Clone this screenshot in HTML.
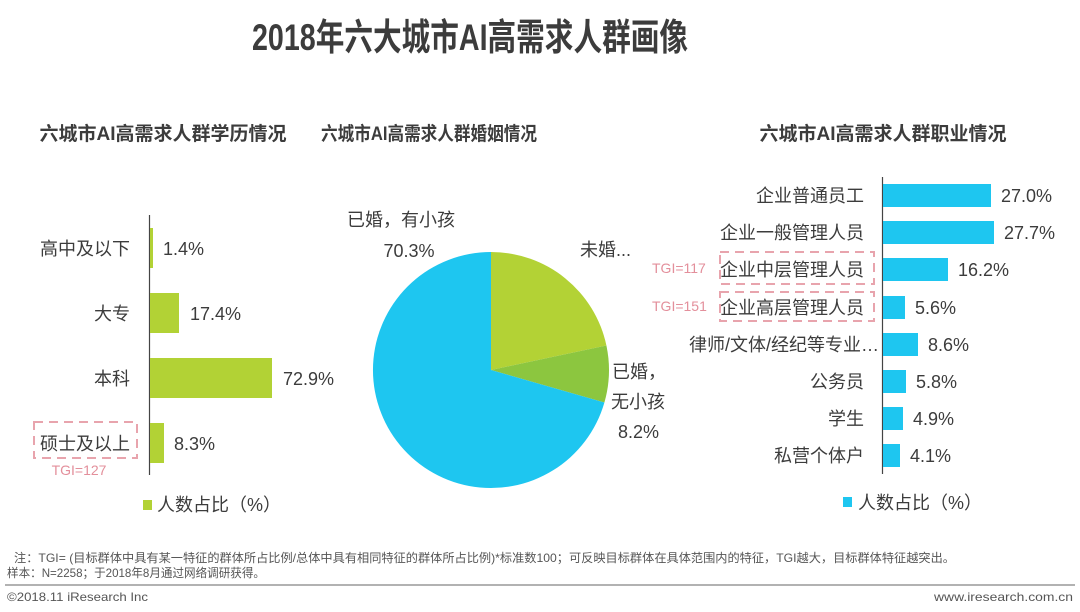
<!DOCTYPE html>
<html><head><meta charset="utf-8"><style>
html,body{margin:0;padding:0;background:#fff;}
svg{display:block;font-family:"Liberation Sans","Noto Sans CJK SC",sans-serif;}
</style></head><body>
<svg width="1080" height="612" viewBox="0 0 1080 612" xmlns="http://www.w3.org/2000/svg">
<rect width="1080" height="612" fill="#fff"/>
<text x="470" y="50" font-size="37" font-weight="bold" fill="#3c3c3c" text-anchor="middle" textLength="436" lengthAdjust="spacingAndGlyphs">2018年六大城市AI高需求人群画像</text>
<g font-size="19" font-weight="bold" fill="#3c3c3c" text-anchor="middle">
<text x="163" y="140">六城市AI高需求人群学历情况</text>
<text x="429" y="140" textLength="216" lengthAdjust="spacingAndGlyphs">六城市AI高需求人群婚姻情况</text>
<text x="883" y="140">六城市AI高需求人群职业情况</text>
</g>
<!-- left chart -->
<line x1="149.5" y1="215" x2="149.5" y2="475" stroke="#444" stroke-width="1.2"/>
<g fill="#b2d235">
<rect x="150" y="228" width="3" height="40"/>
<rect x="150" y="293" width="29" height="40"/>
<rect x="150" y="358" width="122" height="40"/>
<rect x="150" y="423" width="14" height="40"/>
</g>
<g font-size="18" fill="#3c3c3c">
<g text-anchor="end">
<text x="130" y="255">高中及以下</text>
<text x="130" y="320">大专</text>
<text x="130" y="385">本科</text>
<text x="130" y="450">硕士及以上</text>
</g>
<text x="163" y="255">1.4%</text>
<text x="190" y="320">17.4%</text>
<text x="283" y="385">72.9%</text>
<text x="174" y="450">8.3%</text>
</g>
<rect x="34" y="422" width="103" height="36" fill="none" stroke="#e8a4ad" stroke-width="2" stroke-dasharray="9,6"/>
<text x="79" y="475" font-size="14" fill="#e38f9b" text-anchor="middle">TGI=127</text>
<rect x="143" y="500" width="9" height="10" fill="#b2d235"/>
<text x="157" y="511" font-size="18" fill="#3c3c3c">人数占比（%）</text>
<!-- pie -->
<g transform="translate(491,370)">
<path d="M0,0 L0,-118 A118,118 0 0 1 115.4,-24.5 Z" fill="#b3d235"/>
<path d="M0,0 L115.4,-24.5 A118,118 0 0 1 113.4,32.5 Z" fill="#8cc63f"/>
<path d="M0,0 L113.4,32.5 A118,118 0 1 1 0,-118 Z" fill="#1ec6f0"/>
</g>
<g font-size="18" fill="#3c3c3c">
<text x="347" y="226">已婚，有小孩</text>
<text x="409" y="257" text-anchor="middle">70.3%</text>
<text x="580" y="256">未婚...</text>
<text x="612" y="378">已婚，</text>
<text x="611" y="408">无小孩</text>
<text x="618" y="438">8.2%</text>
</g>
<!-- right chart -->
<line x1="882.5" y1="177" x2="882.5" y2="474" stroke="#444" stroke-width="1.2"/>
<g fill="#1ec6f0">
<rect x="883" y="184" width="108" height="23"/>
<rect x="883" y="221" width="111" height="23"/>
<rect x="883" y="258" width="65" height="23"/>
<rect x="883" y="296" width="22" height="23"/>
<rect x="883" y="333" width="35" height="23"/>
<rect x="883" y="370" width="23" height="23"/>
<rect x="883" y="407" width="20" height="23"/>
<rect x="883" y="444" width="17" height="23"/>
</g>
<g font-size="18" fill="#3c3c3c">
<g text-anchor="end">
<text x="864" y="202">企业普通员工</text>
<text x="864" y="239">企业一般管理人员</text>
<text x="864" y="276">企业中层管理人员</text>
<text x="864" y="314">企业高层管理人员</text>
<text x="879" y="351">律师/文体/经纪等专业…</text>
<text x="864" y="388">公务员</text>
<text x="864" y="425">学生</text>
<text x="864" y="462">私营个体户</text>
</g>
<text x="1001" y="202">27.0%</text>
<text x="1004" y="239">27.7%</text>
<text x="958" y="276">16.2%</text>
<text x="915" y="314">5.6%</text>
<text x="928" y="351">8.6%</text>
<text x="916" y="388">5.8%</text>
<text x="913" y="425">4.9%</text>
<text x="910" y="462">4.1%</text>
</g>
<rect x="720" y="252" width="154" height="32" fill="none" stroke="#e8a4ad" stroke-width="2" stroke-dasharray="9,6"/>
<rect x="720" y="292" width="154" height="29" fill="none" stroke="#e8a4ad" stroke-width="2" stroke-dasharray="9,6"/>
<g font-size="14" fill="#e38f9b">
<text x="652" y="273">TGI=117</text>
<text x="652" y="311">TGI=151</text>
</g>
<rect x="843" y="497" width="9" height="10" fill="#1ec6f0"/>
<text x="858" y="509" font-size="18" fill="#3c3c3c">人数占比（%）</text>
<!-- footer -->
<g font-size="12" fill="#555">
<text x="14" y="562" textLength="941" lengthAdjust="spacingAndGlyphs">注：TGI= (目标群体中具有某一特征的群体所占比例/总体中具有相同特征的群体所占比例)*标准数100；可反映目标群体在具体范围内的特征，TGI越大，目标群体特征越突出。</text>
<text x="7" y="577" textLength="258" lengthAdjust="spacingAndGlyphs">样本：N=2258；于2018年8月通过网络调研获得。</text>
<text x="7" y="601" textLength="141" lengthAdjust="spacingAndGlyphs">©2018.11 iResearch Inc</text>
<text x="934" y="601" textLength="139" lengthAdjust="spacingAndGlyphs">www.iresearch.com.cn</text>
</g>
<line x1="5" y1="585" x2="1075" y2="585" stroke="#999" stroke-width="1.5"/>
</svg>
</body></html>
